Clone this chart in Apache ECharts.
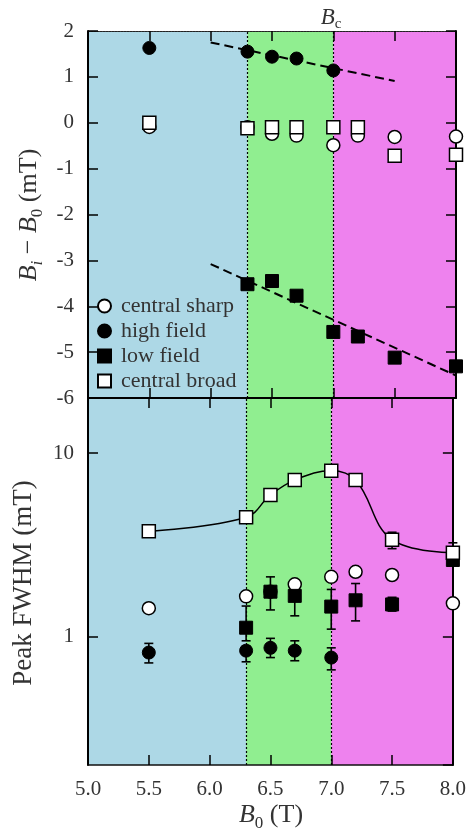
<!DOCTYPE html>
<html><head><meta charset="utf-8">
<script src="https://cdn.jsdelivr.net/npm/echarts@6/dist/echarts.min.js"></script>
<style>html,body{margin:0;padding:0;background:#fff}#c{width:469px;height:836px}</style>
</head><body><div id="c"></div>
<script>
// ---------- data ----------
const xTicks = [5.0, 5.5, 6.0, 6.5, 7.0, 7.5, 8.0];
const regionBounds = [5.0, 6.3, 7.0, 8.0];
const regionNames = ['QD', 'QC', 'LL'];
const regionColors = ['#ADD8E6', '#90EE90', '#EE82EE'];

// panel (a): B_i - B_0 (mT)
const aSharpX = [5.5, 6.3, 6.5, 6.7, 7.0, 7.2, 7.5, 8.0];
const aSharp  = [-0.09, -0.1, -0.24, -0.28, -0.49, -0.28, -0.31, -0.30];
const aHighX  = [5.5, 6.3, 6.5, 6.7, 7.0];
const aHigh   = [1.63, 1.55, 1.44, 1.40, 1.14];
const aLowX   = [6.3, 6.5, 6.7, 7.0, 7.2, 7.5, 8.0];
const aLow    = [-3.52, -3.45, -3.77, -4.56, -4.66, -5.12, -5.31];
const aBroadX = [5.5, 6.3, 6.5, 6.7, 7.0, 7.2, 7.5, 8.0];
const aBroad  = [0.0, -0.12, -0.1, -0.1, -0.1, -0.1, -0.72, -0.70];
const aHighFitX = [6.0, 7.5];
const aHighFit  = [1.75, 0.91];
const aLowFitX  = [6.0, 8.0];
const aLowFit   = [-3.08, -5.51];

// panel (b): Peak FWHM (mT)
const bSharpX = [5.5, 6.3, 6.5, 6.7, 7.0, 7.2, 7.5, 8.0];
const bSharp  = [1.43, 1.66, 1.76, 1.93, 2.12, 2.26, 2.17, 1.52];
const bHighX  = [5.5, 6.3, 6.5, 6.7, 7.0];
const bHigh   = [0.82, 0.84, 0.87, 0.84, 0.77];
const bHighLo = [0.72, 0.73, 0.77, 0.74, 0.66];
const bHighHi = [0.92, 0.89, 0.98, 0.95, 0.87];
const bLowX   = [6.3, 6.5, 6.7, 7.0, 7.2, 7.5, 8.0];
const bLow    = [1.12, 1.76, 1.67, 1.46, 1.58, 1.50, 2.62];
const bLowLo  = [0.95, 1.40, 1.30, 1.10, 1.22, 1.38, 2.52];
const bLowHi  = [1.47, 2.12, 1.95, 1.81, 1.95, 1.64, 2.72];
const bBroadX = [5.5, 6.3, 6.5, 6.7, 7.0, 7.2, 7.5, 8.0];
const bBroad  = [3.76, 4.48, 5.92, 7.14, 8.02, 7.14, 3.38, 2.87];
const bBroadErrX = [7.5, 8.0];
const bBroadLo = [3.02, 2.53];
const bBroadHi = [3.71, 3.25];

const legendNames = ['central sharp', 'high field', 'low field', 'central broad'];

// ---------- helpers ----------
const FONT = 'Liberation Serif';
const TXT = '#333';
const zip = (xs, ys) => xs.map((x, i) => [x, ys[i]]);
const zip3 = (xs, lo, hi) => xs.map((x, i) => [x, lo[i], hi[i]]);

const openStyle = {color: '#fff', borderColor: '#000', borderWidth: 1.5, opacity: 1};
const fillStyle = {color: '#000', borderColor: '#000', borderWidth: 1, opacity: 1};

function xAx(grid, pos, showLabel, lineStyle) {
  return {
    type: 'value', gridIndex: grid, position: pos, min: 5, max: 8, interval: 0.5, z: 5,
    axisLine: {show: true, onZero: false, lineStyle: lineStyle},
    axisTick: {show: true, inside: true, length: 10, lineStyle: {color: '#000', width: 1.5}},
    axisLabel: {show: showLabel, margin: 14, fontFamily: FONT, fontSize: 21, color: TXT,
      formatter: v => v.toFixed(1)},
    splitLine: {show: false}
  };
}
function yAxA(pos, showLabel) {
  return {
    type: 'value', gridIndex: 0, position: pos, min: -6, max: 2, interval: 1, z: 5,
    axisLine: {show: true, onZero: false, lineStyle: {color: '#000', width: 2}},
    axisTick: {show: true, inside: true, length: 10, lineStyle: {color: '#000', width: 1.5}},
    axisLabel: {show: showLabel, margin: 14, fontFamily: FONT, fontSize: 21, color: TXT},
    splitLine: {show: false}
  };
}
function yAxB(pos, showLabel) {
  return {
    type: 'log', logBase: 10, gridIndex: 1, position: pos, min: 0.2, max: 20, z: 5,
    axisLine: {show: true, onZero: false, lineStyle: {color: '#000', width: 2}},
    axisTick: {show: true, inside: true, length: 10, lineStyle: {color: '#000', width: 1.5}},
    axisLabel: {show: showLabel, margin: 14, fontFamily: FONT, fontSize: 21, color: TXT,
      showMinLabel: false, showMaxLabel: false},
    minorTick: {show: false},
    splitLine: {show: false}
  };
}

function errRender(params, api) {
  const x = api.value(0), lo = api.value(1), hi = api.value(2);
  const p1 = api.coord([x, hi]), p2 = api.coord([x, lo]);
  const w = 4.5;
  const st = {stroke: '#000', lineWidth: 1.6};
  return {type: 'group', children: [
    {type: 'line', shape: {x1: p1[0], y1: p1[1], x2: p2[0], y2: p2[1]}, style: st},
    {type: 'line', shape: {x1: p1[0] - w, y1: p1[1], x2: p1[0] + w, y2: p1[1]}, style: st},
    {type: 'line', shape: {x1: p2[0] - w, y1: p2[1], x2: p2[0] + w, y2: p2[1]}, style: st}
  ]};
}
function errSeries(name, xs, lo, hi) {
  return {name: name, type: 'custom', xAxisIndex: 2, yAxisIndex: 2, z: 10,
    renderItem: errRender, encode: {x: 0, y: [1, 2]}, data: zip3(xs, lo, hi), silent: true};
}

function bgSeries(xi, yi) {
  const areas = regionNames.map((n, i) => [
    {xAxis: regionBounds[i], itemStyle: {color: regionColors[i], opacity: 1}},
    {xAxis: regionBounds[i + 1]}
  ]);
  return {type: 'line', xAxisIndex: xi, yAxisIndex: yi, data: [], z: 1, silent: true,
    markArea: {silent: true, data: areas},
    markLine: {silent: true, symbol: 'none', label: {show: false},
      lineStyle: {type: [2, 2], color: '#000', width: 1.2},
      data: [{xAxis: regionBounds[1]}, {xAxis: regionBounds[2]}]}};
}

const SZ = 13;

const option = {
  animation: false,
  grid: [
    {left: 88, top: 31, width: 368, height: 367},
    {left: 88, top: 398, width: 368, height: 367}
  ],
  xAxis: [
    xAx(0, 'bottom', false, {color: '#000', width: 2}),
    xAx(0, 'top', false, {color: '#222', width: 1.2, type: [2, 1]}),
    xAx(1, 'bottom', true, {color: '#111', width: 1.6}),
    xAx(1, 'top', false, {color: '#000', width: 2})
  ],
  yAxis: [yAxA('left', true), yAxA('right', false), yAxB('left', true), yAxB('right', false)],
  legend: {
    data: legendNames, orient: 'vertical', left: 97, top: 295, padding: 0,
    itemWidth: SZ, itemHeight: SZ, itemGap: 3, selectedMode: false,
    textStyle: {fontFamily: FONT, fontSize: 22, color: TXT, lineHeight: 22, padding: [0, 0, 0, 5]}
  },
  series: [
    bgSeries(0, 0),
    bgSeries(2, 2),
    // panel a
    {name: 'central sharp', type: 'scatter', xAxisIndex: 0, yAxisIndex: 0, symbol: 'circle', symbolSize: SZ,
      itemStyle: openStyle, data: zip(aSharpX, aSharp), z: 10, silent: true},
    {name: 'high field', type: 'scatter', xAxisIndex: 0, yAxisIndex: 0, symbol: 'circle', symbolSize: SZ,
      itemStyle: fillStyle, data: zip(aHighX, aHigh), z: 10, silent: true},
    {name: 'low field', type: 'scatter', xAxisIndex: 0, yAxisIndex: 0, symbol: 'rect', symbolSize: SZ,
      itemStyle: fillStyle, data: zip(aLowX, aLow), z: 10, silent: true},
    {name: 'central broad', type: 'scatter', xAxisIndex: 0, yAxisIndex: 0, symbol: 'rect', symbolSize: SZ,
      itemStyle: openStyle, data: zip(aBroadX, aBroad), z: 10, silent: true},
    {name: 'fit high', type: 'line', xAxisIndex: 0, yAxisIndex: 0, showSymbol: false, symbol: 'none',
      lineStyle: {color: '#000', width: 2, type: [9, 5]}, data: zip(aHighFitX, aHighFit), z: 8, silent: true},
    {name: 'fit low', type: 'line', xAxisIndex: 0, yAxisIndex: 0, showSymbol: false, symbol: 'none',
      lineStyle: {color: '#000', width: 2, type: [9, 5]}, data: zip(aLowFitX, aLowFit), z: 8, silent: true},
    // panel b
    {name: 'central sharp', type: 'scatter', xAxisIndex: 2, yAxisIndex: 2, symbol: 'circle', symbolSize: SZ,
      itemStyle: openStyle, data: zip(bSharpX, bSharp), z: 10, silent: true},
    errSeries('high err', bHighX, bHighLo, bHighHi),
    {name: 'high field', type: 'scatter', xAxisIndex: 2, yAxisIndex: 2, symbol: 'circle', symbolSize: SZ,
      itemStyle: fillStyle, data: zip(bHighX, bHigh), z: 10, silent: true},
    errSeries('low err', bLowX, bLowLo, bLowHi),
    {name: 'low field', type: 'scatter', xAxisIndex: 2, yAxisIndex: 2, symbol: 'rect', symbolSize: SZ,
      itemStyle: fillStyle, data: zip(bLowX, bLow), z: 10, silent: true},
    errSeries('broad err', bBroadErrX, bBroadLo, bBroadHi),
    {name: 'central broad', type: 'line', xAxisIndex: 2, yAxisIndex: 2, symbol: 'rect', symbolSize: SZ,
      showAllSymbol: true, smooth: 0.4, itemStyle: openStyle, lineStyle: {color: '#000', width: 1.5},
      data: zip(bBroadX, bBroad), z: 10, silent: true}
  ],
  graphic: [
    // Bc label
    {type: 'text', x: 331, y: 18, style: {
      text: '{i|B}{s|c}', align: 'center', verticalAlign: 'middle', fill: TXT,
      rich: {i: {fontFamily: FONT, fontStyle: 'italic', fontSize: 23, lineHeight: 28, verticalAlign: 'middle', fill: TXT},
             s: {fontFamily: FONT, fontSize: 15, lineHeight: 28, verticalAlign: 'bottom', fill: TXT}}}},
    // panel labels
    {type: 'text', x: 119, y: 75, style: {text: '(a)', fontFamily: FONT, fontSize: 29, fill: '#444', align: 'center', verticalAlign: 'middle'}},
    {type: 'text', x: 119, y: 442, style: {text: '(b)', fontFamily: FONT, fontSize: 29, fill: '#444', align: 'center', verticalAlign: 'middle'}},
    // region names
    {type: 'text', x: 92, y: 738, style: {text: regionNames[0], fontFamily: FONT, fontSize: 31, fill: TXT, align: 'left', verticalAlign: 'middle'}},
    {type: 'text', x: 250, y: 738, style: {text: regionNames[1], fontFamily: FONT, fontSize: 31, fill: TXT, align: 'left', verticalAlign: 'middle'}},
    {type: 'text', x: 338, y: 738, style: {text: regionNames[2], fontFamily: FONT, fontSize: 31, fill: TXT, align: 'left', verticalAlign: 'middle'}},
    // x title
    {type: 'text', x: 271, y: 815, style: {
      text: '{i|B}{s|0}{n| (T)}', align: 'center', verticalAlign: 'middle',
      rich: {i: {fontFamily: FONT, fontStyle: 'italic', fontSize: 26, lineHeight: 34, verticalAlign: 'middle', fill: TXT},
             s: {fontFamily: FONT, fontSize: 17, lineHeight: 34, verticalAlign: 'bottom', fill: TXT},
             n: {fontFamily: FONT, fontSize: 26, lineHeight: 34, verticalAlign: 'middle', fill: TXT}}}},
    // y title a
    {type: 'text', x: 29, y: 215, rotation: Math.PI / 2, style: {
      text: '{i|B}{si|i}{n| − }{i|B}{s|0}{n| (mT)}', align: 'center', verticalAlign: 'middle',
      rich: {i: {fontFamily: FONT, fontStyle: 'italic', fontSize: 26, lineHeight: 34, verticalAlign: 'middle', fill: TXT},
             si: {fontFamily: FONT, fontStyle: 'italic', fontSize: 17, lineHeight: 34, verticalAlign: 'bottom', fill: TXT},
             s: {fontFamily: FONT, fontSize: 17, lineHeight: 34, verticalAlign: 'bottom', fill: TXT},
             n: {fontFamily: FONT, fontSize: 26, lineHeight: 34, verticalAlign: 'middle', fill: TXT}}}},
    // y title b
    {type: 'text', x: 24, y: 583, rotation: Math.PI / 2, style: {
      text: 'Peak FWHM (mT)', fontFamily: FONT, fontSize: 27, fill: TXT, align: 'center', verticalAlign: 'middle'}}
  ]
};

const chart = echarts.init(document.getElementById('c'), null, {renderer: 'canvas'});
chart.setOption(option);
</script></body></html>
